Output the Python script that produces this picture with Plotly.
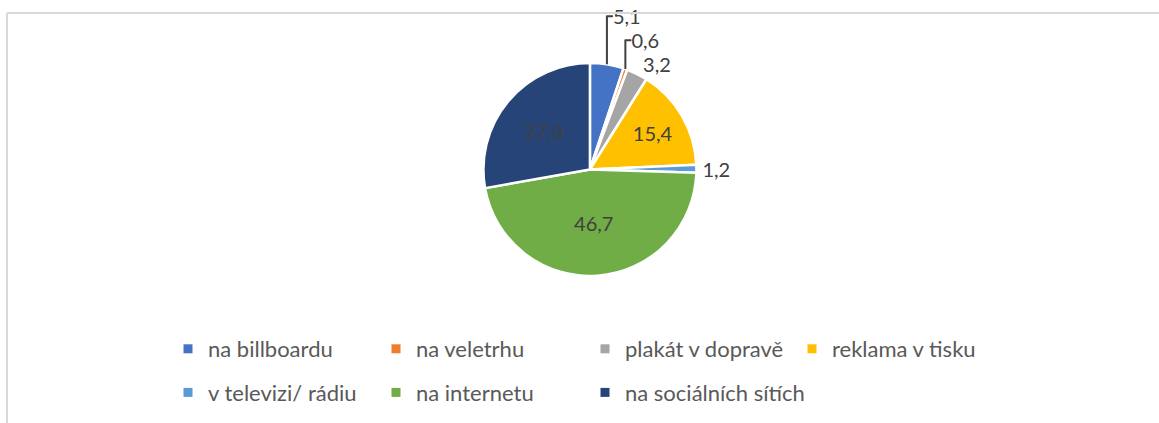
import plotly.graph_objects as go

labels = ["na billboardu", "na veletrhu", "plakát v dopravě", "reklama v tisku",
          "v televizi/ rádiu", "na internetu", "na sociálních sítích"]
values = [5.1, 0.6, 3.2, 15.4, 1.2, 46.7, 27.8]
colors = ["#4472C4", "#ED7D31", "#A5A5A5", "#FFC000", "#5B9BD5", "#70AD47", "#264478"]
text_positions = ["outside", "outside", "outside", "inside", "outside", "inside", "inside"]
# legend layout: column of each entry (4 columns, 2 rows)
legend_cols = ["legend", "legend2", "legend3", "legend4", "legend", "legend2", "legend3"]
col_marker_x = [188, 396, 605, 812]

W, H = 1159, 423
FONT = "Lato, 'Noto Sans', sans-serif"
TXT = "#404040"
LEG_TXT = "#595959"

fig = go.Figure()
fig.add_trace(go.Pie(
    labels=labels,
    values=values,
    sort=False,
    direction="clockwise",
    rotation=0,
    marker=dict(colors=colors, line=dict(color="white", width=2.5)),
    texttemplate="%{value:.1f}",
    textposition=text_positions,
    insidetextorientation="horizontal",
    textfont=dict(family=FONT, size=20, color=TXT),
    domain=dict(x=[0.35, 0.668], y=[1 - 276 / H, 1 - 63 / H]),
    hoverinfo="label+value",
    showlegend=False,
))

# legend entries (one per category, same labels/colours as the pie)
for i, (lab, col, lg) in enumerate(zip(labels, colors, legend_cols)):
    fig.add_trace(go.Scatter(
        x=[None], y=[None], mode="markers", name=lab,
        marker=dict(symbol="square", size=9, color=col),
        legend=lg, legendgroup=f"g{i}", showlegend=True, hoverinfo="skip",
    ))

def leg(xpix):
    return dict(
        orientation="v", x=(xpix - 20) / W, xanchor="left",
        y=1 - 328 / H, yanchor="top",
        itemwidth=30, tracegroupgap=12, traceorder="grouped",
        font=dict(family=FONT, size=22, color=LEG_TXT),
        bgcolor="rgba(0,0,0,0)",
    )

fig.update_layout(
    width=W, height=H,
    margin=dict(l=0, r=0, t=0, b=0),
    paper_bgcolor="white",
    plot_bgcolor="white",
    separators=", ",
    font=dict(family=FONT, size=22, color=LEG_TXT),
    xaxis=dict(visible=False),
    yaxis=dict(visible=False),
    legend=leg(col_marker_x[0]),
    legend2=leg(col_marker_x[1]),
    legend3=leg(col_marker_x[2]),
    legend4=leg(col_marker_x[3]),
    shapes=[
        dict(type="line", xref="paper", yref="paper",
             x0=7 / W, x1=1, y0=1 - 13 / H, y1=1 - 13 / H,
             line=dict(color="#D9D9D9", width=2)),
        dict(type="line", xref="paper", yref="paper",
             x0=7 / W, x1=7 / W, y0=0, y1=1 - 13 / H,
             line=dict(color="#D9D9D9", width=2)),
    ],
)

fig.write_html("out.html", config={"displayModeBar": False},
               post_script="document.body.style.margin='0';")
